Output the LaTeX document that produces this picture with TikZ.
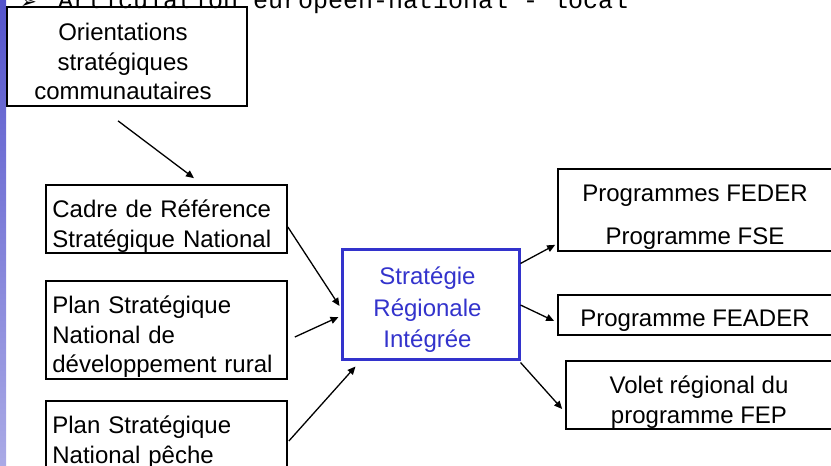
\documentclass[tikz,border=0pt]{standalone}
\usepackage{fontspec}
\setmainfont{Liberation Sans}
\newfontfamily\titlemono{Liberation Mono}
\newfontfamily\symfont{DejaVu Sans}
\usetikzlibrary{arrows.meta,calc}
\definecolor{sriblue}{RGB}{51,51,204}
\definecolor{bartop}{RGB}{85,85,204}
\definecolor{barbot}{RGB}{170,170,230}
\begin{document}
\begin{tikzpicture}[x=1pt,y=-1pt,
  every node/.style={font=\fontsize{24}{29.5}\selectfont},
  box/.style={draw,line width=1.7pt,inner sep=0pt},
  ctxt/.style={inner sep=0pt,align=center},
  ltxt/.style={inner sep=0pt,anchor=west,text width=225pt,align=left},
  arr/.style={-{Triangle[length=8pt,width=7pt]},line width=1.3pt}]
\useasboundingbox (0,0) rectangle (831,466);
\clip (0,0) rectangle (831,466);
\shade[top color=bartop,bottom color=barbot] (0,0) rectangle (6,466);

% title (cut off at top)
\node[anchor=base west,inner sep=0pt,font=\symfont\fontsize{20}{20}\selectfont] (bul) at (20,8) {➢};
\node[anchor=base west,inner sep=0pt,font=\titlemono\fontsize{25}{25}\selectfont] (title) at (58,8) {Articulation européen-national - local};

% left boxes
\node[box,minimum width=240pt,minimum height=99pt] (ori) at (127,56.5) {};
\node[ctxt] (orit) at ($(ori.center)+(-4,5)$) {Orientations\\stratégiques\\communautaires};
\node[box,minimum width=241pt,minimum height=68pt] (cadre) at (166.5,219) {};
\node[ltxt] (cadret) at ($(cadre.west)+(7,7)$) {Cadre de Référence\\Stratégique National};
\node[box,minimum width=241pt,minimum height=98pt] (rural) at (166.5,330) {};
\node[ltxt] (ruralt) at ($(rural.west)+(7,7)$) {Plan Stratégique\\National de\\développement rural};
\node[box,minimum width=241pt,minimum height=78pt] (peche) at (166.5,440) {};
\node[ltxt] (pechet) at ($(peche.west)+(7,2)$) {Plan Stratégique\\National pêche};

% central box
\node[draw=sriblue,line width=3pt,inner sep=0pt,minimum width=177pt,minimum height=110pt] (sri) at (430.5,304) {};
\node[ctxt,text=sriblue,font=\fontsize{24}{31.5}\selectfont] (srit) at ($(sri.center)+(-3,6)$) {Stratégie\\Régionale\\Intégrée};

% right boxes
\node[box,minimum width=274pt,minimum height=82pt] (feder) at (695,210) {};
\node[ctxt] (federt) at ($(feder.center)+(0,7)$) {Programmes FEDER\\[13pt]Programme FSE};
\node[box,minimum width=274pt,minimum height=40pt] (feader) at (695,315) {};
\node[ctxt] (feadert) at ($(feader.center)+(0,6)$) {Programme FEADER};
\node[box,minimum width=266pt,minimum height=68pt] (volet) at (699,395) {};
\node[ctxt] (volett) at ($(volet.center)+(0,7)$) {Volet régional du\\programme FEP};

% connectors
\draw[arr] ($(ori.south)+(-9,14)$) -- ($(cadre.north)+(27.5,-6)$);
\draw[arr] ($(cadre.east)+(0,8)$) -- ($(sri.west)+(-1,2)$);
\draw[arr] ($(rural.east)+(7,7)$) -- ($(sri.west)+(-2,13)$);
\draw[arr] ($(peche.east)+(1,1)$) -- ($(sri.south west)+(15,6)$);
\draw[arr] ($(sri.north east)+(0,16)$) -- ($(feder.south west)+(-2,-7)$);
\draw[arr] ($(sri.east)+(0,1)$) -- ($(feader.west)+(-3,6)$);
\draw[arr] ($(sri.south east)+(0,2)$) -- ($(volet.west)+(-3,14)$);
\end{tikzpicture}
\end{document}
